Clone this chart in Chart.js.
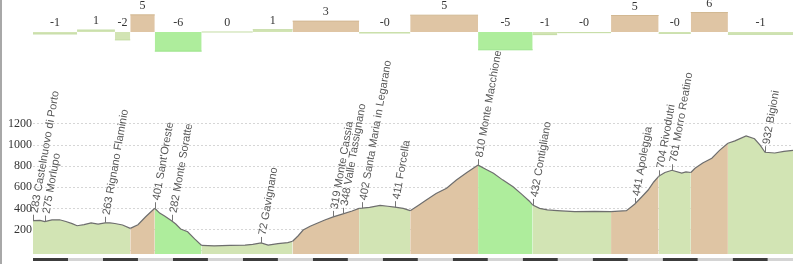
<!DOCTYPE html>
<html lang="it">
<head>
<meta charset="UTF-8">
<title>Profilo altimetrico</title>
<script src="https://cdn.jsdelivr.net/npm/chart.js"></script>
<style>
  body { margin: 0; background: #fff; }
  #wrap { position: relative; width: 800px; height: 264px; }
  #wrap:before { content: ''; position: absolute; left: 0; top: 0; bottom: 0; width: 2px; background: #a8a8a8; }
  canvas { display: block; }
</style>
</head>
<body>
<div id="wrap"><canvas id="profilo" width="800" height="264"></canvas></div>
<script>
// profilo: distanza (km) e quota (m)
const distanze = [0, 1.0, 1.7, 2.7, 3.8, 4.7, 5.6, 6.3, 7.3, 8.3,
  9.3, 10.3, 11.0, 11.7, 12.8, 13.9, 15.0, 16.1, 17.4, 18.1,
  18.8, 19.8, 20.4, 21.1, 22.1, 23.1, 24.1, 25.9, 28.1, 30.3,
  31.4, 32.6, 33.6, 35.0, 36.4, 37.1, 37.9, 38.6, 39.6, 40.6,
  41.7, 42.9, 44.3, 45.6, 46.6, 47.0, 48.1, 49.6, 50.7, 51.7,
  52.9, 53.9, 55.1, 56.2, 57.6, 59.1, 60.5, 62.0, 63.6, 64.7,
  65.8, 67.1, 68.6, 69.9, 70.9, 71.4, 72.4, 73.5, 74.9, 77.4,
  80.3, 82.6, 84.8, 86.0, 87.0, 87.9, 88.7, 89.4, 90.3, 91.3,
  92.7, 93.3, 94.0, 94.6, 95.7, 97.0, 98.1, 99.3, 100.3, 101.9,
  103.1, 103.9, 104.6, 106.0, 107.3, 108.6];
const quote = [283, 285, 275, 290, 292, 275, 255, 235, 245, 262,
  250, 263, 262, 256, 242, 210, 245, 320, 401, 355,
  327, 282, 251, 204, 178, 110, 48, 45, 48, 52,
  58, 72, 52, 65, 75, 88, 140, 194, 230, 258,
  290, 319, 348, 375, 400, 402, 410, 428, 420, 411,
  400, 378, 430, 479, 540, 590, 669, 740, 810, 770,
  733, 670, 605, 530, 470, 432, 400, 385, 378, 368,
  372, 368, 378, 441, 510, 574, 650, 704, 740, 761,
  735, 745, 740, 780, 830, 875, 950, 1017, 1040, 1087,
  1060, 1000, 932, 925, 940, 950];

// tratti: confini (km) e pendenza media (%)
const confini = [0, 6.3, 11.7, 13.9, 17.4, 24.1, 31.4, 37.1, 46.6, 53.9,
  63.6, 71.4, 74.9, 82.6, 89.4, 94.0, 99.3, 108.6];
const pendenze = [-0.6, 0.6, -2.4, 5.2, -5.8, 0, 0.7, 3.3, -0.3, 5.1,
  -5.4, -0.8, -0.2, 5.0, -0.4, 5.9, -0.7];

// localita lungo il percorso
const locKm = [0.0, 1.7, 10.3, 17.4, 19.8, 32.6, 42.9, 44.3, 47.0, 51.7,
  63.6, 71.4, 86.0, 89.4, 91.3, 104.6];
const locQuota = [283, 275, 263, 401, 282, 72, 319, 348, 402, 411,
  810, 432, 441, 704, 761, 932];
const locNome = ['Castelnuovo di Porto', 'Morlupo', 'Rignano Flaminio', "Sant'Oreste",
  'Monte Soratte', 'Gavignano', 'Monte Cassia', 'Valle Tassignano',
  'Santa Maria in Legarano', 'Forcella', 'Monte Macchione', 'Contigliano',
  'Apoleggia', 'Rivodutri', 'Morro Reatino', 'Bigioni'];

const yTicks = [0, 200, 400, 600, 800, 1000, 1200];
const passoScala = 5; // km per tacca della barra in basso

function coloreTratto(p) {
  if (p >= 2) return '#dfc5a4';
  if (p <= -4) return '#aeed9c';
  return '#d2e4b4';
}
function bordoTratto(p) {
  if (p >= 2) return '#d2b892';
  if (p <= -4) return '#9be38a';
  return '#c4dca4';
}
function trattoDi(km) {
  for (let i = 0; i < pendenze.length; i++) {
    if (km < confini[i + 1]) return i;
  }
  return pendenze.length - 1;
}

const datasets = [{
  label: 'Quota',
  data: distanze.map((d, i) => ({ x: d, y: quote[i] })),
  yAxisID: 'y',
  borderColor: '#6e6e6e',
  borderWidth: 1.2,
  pointRadius: 0,
  fill: 'start',
  backgroundColor: '#d2e4b4',
  segment: {
    backgroundColor: c => coloreTratto(pendenze[trattoDi(c.p0.parsed.x)])
  }
}];
pendenze.forEach((p, i) => {
  datasets.push({
    label: 'Pendenza ' + (i + 1),
    data: [{ x: confini[i], y: p }, { x: confini[i + 1], y: p }],
    yAxisID: 'yp',
    borderColor: bordoTratto(p),
    borderWidth: 1,
    backgroundColor: coloreTratto(p),
    fill: 'origin',
    pointRadius: 0
  });
});

function fmtPendenza(p) {
  return p < 0 ? '-' + Math.round(-p) : String(Math.round(p));
}

const etichette = {
  id: 'etichette',
  afterDatasetsDraw(chart) {
    const { ctx, chartArea, scales: { x, y, yp } } = chart;
    ctx.save();

    // nomi delle localita, ruotati
    ctx.font = '11px "Liberation Sans", Arial, sans-serif';
    ctx.fillStyle = '#555';
    ctx.strokeStyle = '#777';
    ctx.lineWidth = 1;
    locNome.forEach((nome, i) => {
      const px = Math.round(x.getPixelForValue(locKm[i])) + 0.5;
      const py = y.getPixelForValue(locQuota[i]);
      ctx.beginPath();
      ctx.moveTo(px, py);
      ctx.lineTo(px, py - 6);
      ctx.stroke();
      ctx.save();
      ctx.translate(px + 1, py - 8);
      ctx.rotate(-80 * Math.PI / 180);
      ctx.textAlign = 'left';
      ctx.textBaseline = 'middle';
      ctx.fillText(locQuota[i] + ' ' + nome, 0, 0);
      ctx.restore();
    });

    // valori di pendenza sopra le barre
    ctx.font = '12px "Liberation Serif", "Times New Roman", serif';
    ctx.fillStyle = '#333';
    ctx.textAlign = 'center';
    ctx.textBaseline = 'middle';
    pendenze.forEach((p, i) => {
      const cx = (x.getPixelForValue(confini[i]) + x.getPixelForValue(confini[i + 1])) / 2;
      const top = yp.getPixelForValue(Math.max(p, 0));
      ctx.fillText(fmtPendenza(p), cx, top - 9);
    });

    // barra della scala chilometrica
    const yb = chartArea.bottom + 4;
    for (let k = 0, n = 0; k < x.max; k += passoScala, n++) {
      const x0 = x.getPixelForValue(k);
      const x1 = x.getPixelForValue(Math.min(k + passoScala, x.max));
      ctx.fillStyle = n % 2 === 0 ? '#3c3c3c' : '#d4d4d4';
      ctx.fillRect(x0, yb, x1 - x0, 3);
    }
    ctx.restore();
  }
};

new Chart(document.getElementById('profilo'), {
  type: 'line',
  data: { datasets },
  options: {
    responsive: false,
    animation: false,
    devicePixelRatio: 1,
    layout: { padding: { left: 0, right: 7, top: 0, bottom: 10 } },
    plugins: { legend: { display: false }, tooltip: { enabled: false } },
    elements: { line: { tension: 0 } },
    scales: {
      x: { type: 'linear', min: 0, max: 108.6, display: false },
      y: {
        min: -33, max: 2376,
        z: 1,
        afterBuildTicks: s => { s.ticks = yTicks.map(v => ({ value: v })); },
        afterFit: s => { s.width = 33; s.paddingTop = 0; s.paddingBottom = 0; },
        grid: { color: '#d6d6d6', lineWidth: 1, drawTicks: false },
        border: { display: false, dash: [2, 2] },
        ticks: {
          padding: 1,
          color: '#333',
          font: { family: '"Liberation Serif", "Times New Roman", serif', size: 12 },
          callback: v => (v > 0 ? v : '')
        }
      },
      yp: { min: -67.3, max: 9.7, display: false }
    }
  },
  plugins: [etichette]
});
</script>
</body>
</html>
